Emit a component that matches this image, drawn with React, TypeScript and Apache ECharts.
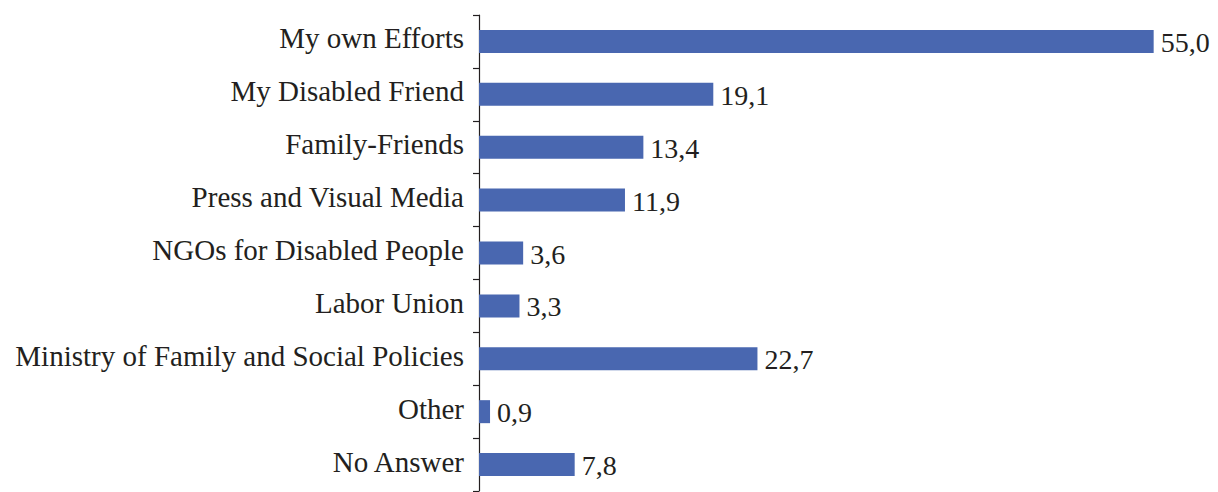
import React, { useEffect, useRef } from "react";
import * as echarts from "echarts";

const categories = [
  "My own Efforts",
  "My Disabled Friend",
  "Family-Friends",
  "Press and Visual Media",
  "NGOs for Disabled People",
  "Labor Union",
  "Ministry of Family and Social Policies",
  "Other",
  "No Answer",
];
const values = [55.0, 19.1, 13.4, 11.9, 3.6, 3.3, 22.7, 0.9, 7.8];

export default function App() {
  const ref = useRef<HTMLDivElement>(null);
  useEffect(() => {
    if (!ref.current) return;
    const chart = echarts.init(ref.current, undefined, { renderer: "svg" });
    chart.setOption({
      animation: false,
      grid: { left: 479, right: 3, top: 15, bottom: 1, containLabel: false },
      xAxis: {
        type: "value",
        min: 0,
        max: 60,
        show: false,
      },
      yAxis: {
        type: "category",
        data: categories,
        inverse: true,
        axisLine: { show: true, lineStyle: { color: "#231f20", width: 1.2 } },
        axisTick: { show: true, length: 6, lineStyle: { color: "#231f20", width: 1.2 } },
        axisLabel: {
          margin: 15,
          fontFamily: "Liberation Serif",
          fontSize: 29,
          color: "#231f20",
          formatter: (v: string) => `{a|${v}}`,
          rich: {
            a: {
              fontFamily: "Liberation Serif",
              fontSize: 29,
              color: "#231f20",
              padding: [0, 0, 6, 0],
            },
          },
        },
        splitLine: { show: false },
      },
      series: [
        {
          type: "bar",
          data: values,
          barWidth: 23,
          itemStyle: { color: "#4967B0" },
          label: {
            show: true,
            position: "right",
            distance: 7,
            fontFamily: "Liberation Serif",
            fontSize: 28,
            color: "#231f20",
            offset: [0, 1],
            formatter: (p: any) => p.value.toFixed(1).replace(".", ","),
          },
        },
      ],
    });
    return () => chart.dispose();
  }, []);
  return (
    <div
      ref={ref}
      style={{ position: "fixed", left: 0, top: 0, width: 1218, height: 492, background: "#fff" }}
    />
  );
}
